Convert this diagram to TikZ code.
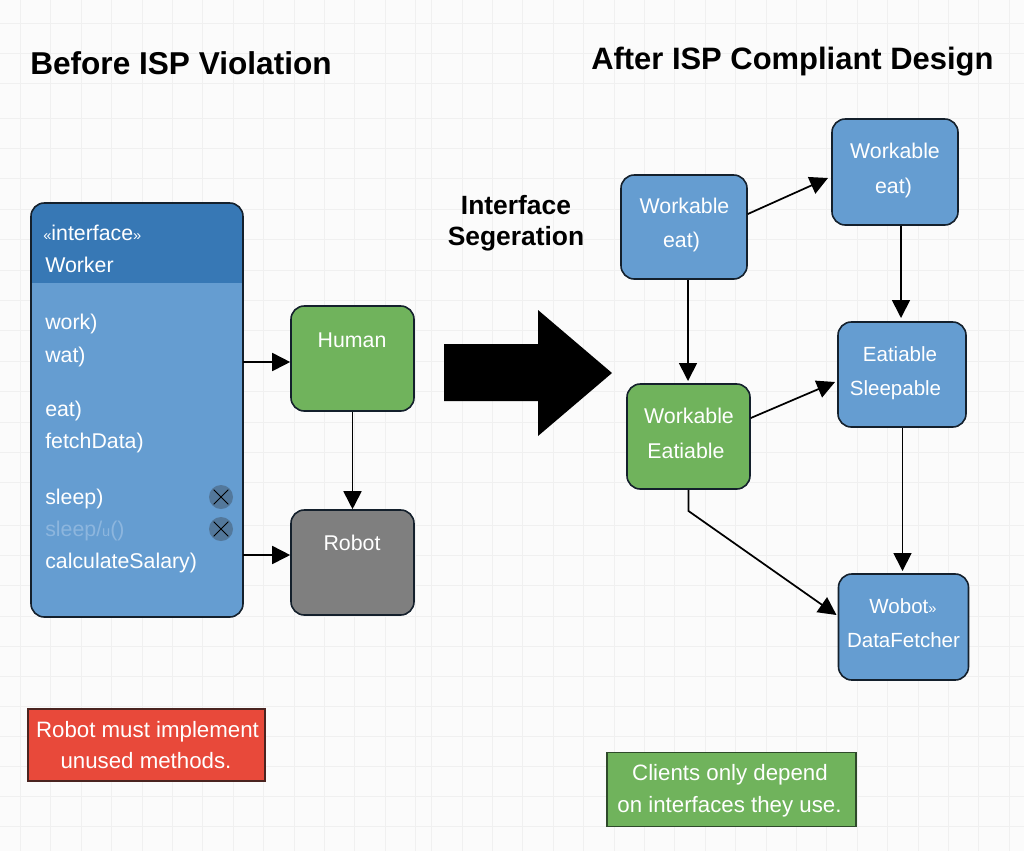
\documentclass[tikz,border=0pt]{standalone}
\usepackage{fontspec}
\setmainfont{Liberation Sans}
\newfontfamily\titlefont{Liberation Sans}
\usetikzlibrary{arrows.meta}
\definecolor{bgc}{HTML}{FBFBFB}
\definecolor{gridc}{HTML}{F0F0F0}
\definecolor{bluec}{HTML}{659DD1}
\definecolor{headc}{HTML}{3778B5}
\definecolor{greenc}{HTML}{70B35C}
\definecolor{grayc}{HTML}{7F7F7F}
\definecolor{redc}{HTML}{E8493A}
\definecolor{edgec}{HTML}{14202C}
\definecolor{crossc}{HTML}{53789B}
\definecolor{fadec}{HTML}{8DB6DE}
\definecolor{notee}{HTML}{2E4A2A}
\definecolor{notef}{HTML}{4A2420}
\tikzset{
  x=0.75pt,y=-0.75pt,
  box/.style={draw=edgec,line width=1.2pt,rounded corners=10pt,inner sep=0pt},
  lbl/.style={inner sep=0pt,text=white,font=\fontsize{16pt}{18pt}\selectfont},
  slbl/.style={inner sep=0pt,text=white,font=\fontsize{15.4pt}{18pt}\selectfont},
  note/.style={line width=0.8pt,inner sep=0pt},
  nlbl/.style={inner sep=0pt,text=white,font=\fontsize{16.7pt}{18pt}\selectfont},
  cls/.style={lbl,anchor=west},
  conn/.style={draw=black,line width=1.3pt,-{Triangle[length=13.5pt,width=13.5pt]}},
  ttl/.style={anchor=west,inner sep=0pt,font=\titlefont\bfseries},
}
\begin{document}
\begin{tikzpicture}
\useasboundingbox (0,0) rectangle (1024,851);
\fill[bgc] (0,0) rectangle (1024,851);
\foreach \i in {0,...,13} \draw[gridc,line width=0.7pt] ({20.5+30.4*\i},0) -- ({20.5+30.4*\i},851);
\foreach \i in {0,...,19} \draw[gridc,line width=0.7pt] ({431.7+30.4*\i},0) -- ({431.7+30.4*\i},851);
\foreach \yy in {23,53,83} \draw[gridc,line width=0.7pt] (0,\yy) -- (1024,\yy);
\foreach \i in {0,...,12} \draw[gridc,line width=0.7pt] (0,{118+30.4*\i}) -- (1024,{118+30.4*\i});
\foreach \i in {0,...,10} \draw[gridc,line width=0.7pt] (0,{525.7+30.1*\i}) -- (1024,{525.7+30.1*\i});

% titles
\node[ttl,font=\titlefont\bfseries\fontsize{23.7pt}{28pt}\selectfont] (t1) at (30,63) {Before ISP Violation};
\node[ttl,font=\titlefont\bfseries\fontsize{23.2pt}{28pt}\selectfont] (t2) at (591,62) {After ISP Compliant Design};
\node[inner sep=0pt,align=center,font=\titlefont\bfseries\fontsize{19.8pt}{23.2pt}\selectfont] (t3) at (516,223) {Interface\\Segeration};

% worker interface
\node[minimum width=159pt,minimum height=310.5pt,inner sep=0pt] (worker) at (137,410) {};
\begin{scope}
  \clip[rounded corners=10pt] (31,203) rectangle (243,617);
  \fill[bluec] (31,203) rectangle (243,617);
  \fill[headc] (31,203) rectangle (243,283);
\end{scope}
\draw[edgec,line width=1.2pt,rounded corners=10pt] (31,203) rectangle (243,617);

\node[cls] (m0) at (43,232.5) {\fontsize{11pt}{14pt}\selectfont«\fontsize{16pt}{18pt}\selectfont interface\fontsize{11pt}{14pt}\selectfont»};
\node[cls] (m1) at (45,264.5) {Worker};
\node[cls] (m2) at (45,324) {work)};
\node[cls] (m3) at (45,357) {wat)};
\node[cls] (m4) at (45,411) {eat)};
\node[cls] (m5) at (45,443) {fetchData)};
\node[cls] (m6) at (45,499) {sleep)};
\node[cls,text=fadec] (m7) at (45,531) {sleep/\fontsize{11pt}{14pt}\selectfont u\fontsize{16pt}{18pt}\selectfont ()};
\node[cls] (m8) at (45,563) {calculateSalary)};

\foreach \n/\yy in {c1/497,c2/529}{
  \node[circle,fill=crossc,minimum size=18pt,inner sep=0pt] (\n) at (221,\yy) {};
  \draw[black,line width=0.7pt] (\n.center) +(-5.5pt,-5.5pt) -- +(5.5pt,5.5pt) +(-5.5pt,5.5pt) -- +(5.5pt,-5.5pt);
}

% boxes
\node[box,fill=greenc,minimum width=92.25pt,minimum height=78.75pt] (human) at (352.5,358.5) {};
\node[lbl] (humant) at (352,340) {Human};
\node[box,fill=grayc,minimum width=92.25pt,minimum height=78.75pt] (robot) at (352.5,562.5) {};
\node[lbl] (robott) at (352,543) {Robot};

\node[box,fill=bluec,minimum width=94.5pt,minimum height=78pt] (wa) at (684,227) {};
\node[lbl] (wa1) at (684.5,206) {Workable};
\node[lbl] (wa2) at (681.5,242) {eat)};
\node[box,fill=bluec,minimum width=94.5pt,minimum height=79.5pt] (wb) at (895,172) {};
\node[lbl] (wb1) at (895,151) {Workable};
\node[lbl] (wb2) at (893.5,188) {eat)};
\node[box,fill=bluec,minimum width=96pt,minimum height=78.75pt] (es) at (902,374.5) {};
\node[slbl] (es1) at (900,354) {Eatiable};
\node[slbl] (es2) at (895.5,390) {Sleepable};
\node[box,fill=greenc,minimum width=92.25pt,minimum height=78.75pt] (we) at (688.5,436.5) {};
\node[lbl] (we1) at (689,416) {Workable};
\node[lbl] (we2) at (686,451) {Eatiable};
\node[box,fill=bluec,minimum width=97.5pt,minimum height=79.5pt] (wd) at (903.5,627) {};
\node[slbl] (wd1) at (903,606.5) {Wobot{\fontsize{11pt}{14pt}\selectfont»}};
\node[slbl] (wd2) at (903.5,640) {DataFetcher};

% notes
\node[note,draw=notef,fill=redc,minimum width=177.75pt,minimum height=54pt] (n1) at (146.5,745) {};
\node[nlbl] (n1a) at (147.5,732) {Robot must implement};
\node[nlbl] (n1b) at (146,761) {unused methods.};
\node[note,draw=notee,fill=greenc,minimum width=186.75pt,minimum height=55pt] (n2) at (731.5,789.5) {};
\node[nlbl] (n2a) at (730,775) {Clients only depend};
\node[nlbl] (n2b) at (729.5,807) {on interfaces they use.};

% big arrow
\fill[black] (444,344) -- (538,344) -- (538,310) -- (612,373) -- (538,436) -- (538,401) -- (444,401) -- cycle;

% connectors
\draw[conn] (worker.east |- 0,362) -- (human.west |- 0,362);
\draw[conn] (worker.east |- 0,555) -- (robot.west |- 0,555);
\draw[conn] (human.south) -- (robot.north);
\draw[conn] (wa.east |- 0,214) -- (828,178);
\draw[conn] (wa.south -| 688,0) -- (688,381);
\draw[conn] (wb.south -| 901,0) -- (901,318);
\draw[conn] (we.east |- 0,418) -- (835,382);
\draw[conn] (es.south -| 902.5,0) -- (902.5,571);
\draw[conn] (we.south -| 688.5,0) -- (688.5,511) -- (836.5,615);
\end{tikzpicture}
\end{document}
